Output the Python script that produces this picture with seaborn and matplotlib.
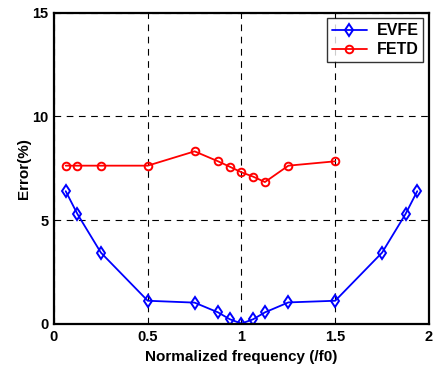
import numpy as np
import pandas as pd
import matplotlib
matplotlib.use('Agg')
import matplotlib.pyplot as plt
import seaborn as sns

freq_evfe = [0.0625, 0.125, 0.25, 0.5, 0.75, 0.875, 0.9375, 1.0, 1.0625, 1.125, 1.25, 1.5, 1.75, 1.875, 1.9375]
err_evfe = [6.4, 5.3, 3.44, 1.12, 1.03, 0.56, 0.23, 0.02, 0.23, 0.56, 1.04, 1.12, 3.44, 5.3, 6.4]

freq_fetd = [0.0625, 0.125, 0.25, 0.5, 0.75, 0.875, 0.9375, 1.0, 1.0625, 1.125, 1.25, 1.5]
err_fetd = [7.63, 7.63, 7.63, 7.63, 8.32, 7.84, 7.58, 7.31, 7.10, 6.84, 7.63, 7.84]

sns.set_style('white')
plt.rcParams['font.family'] = ['Liberation Sans', 'DejaVu Sans']
plt.rcParams['font.weight'] = 'bold'
plt.rcParams['text.color'] = 'black'
plt.rcParams['axes.labelcolor'] = 'black'
plt.rcParams['xtick.color'] = 'black'
plt.rcParams['ytick.color'] = 'black'

fig = plt.figure(figsize=(4.34, 3.71), dpi=100)
ax = fig.add_axes([0.1244, 0.1267, 0.864, 0.839])

sns.lineplot(x=freq_evfe, y=err_evfe, ax=ax, color='blue', marker='d', markersize=6.5,
             markerfacecolor='none', markeredgecolor='blue', markeredgewidth=1.4,
             linewidth=1.3, label='EVFE')
sns.lineplot(x=freq_fetd, y=err_fetd, ax=ax, color='red', marker='o', markersize=5.5,
             markerfacecolor='none', markeredgecolor='red', markeredgewidth=1.4,
             linewidth=1.3, label='FETD')

ax.set_xlim(0, 2)
ax.set_ylim(0, 15)
ax.set_xticks([0, 0.5, 1, 1.5, 2])
ax.set_xticklabels(['0', '0.5', '1', '1.5', '2'])
ax.set_yticks([0, 5, 10, 15])
ax.grid(True, color='black', linestyle=(0, (6, 5)), linewidth=0.8)
ax.tick_params(length=0, labelsize=10.5, pad=4)
for lab in ax.get_xticklabels() + ax.get_yticklabels():
    lab.set_fontweight('bold')
for s in ax.spines.values():
    s.set_linewidth(1.6)
    s.set_color('black')

ax.set_xlabel('Normalized frequency (/f0)', fontsize=11, fontweight='bold', labelpad=5)
ax.set_ylabel('Error(%)', fontsize=11, fontweight='bold', labelpad=1)

leg = ax.legend(loc='upper right', fontsize=11.5, frameon=True, fancybox=False,
                edgecolor='black', handlelength=2.2, handletextpad=0.6,
                borderaxespad=0.35, borderpad=0.3, labelspacing=0.25)
leg.get_frame().set_linewidth(1.0)
for t in leg.get_texts():
    t.set_fontweight('bold')
    t.set_color('black')

fig.savefig('out.png', dpi=100)
